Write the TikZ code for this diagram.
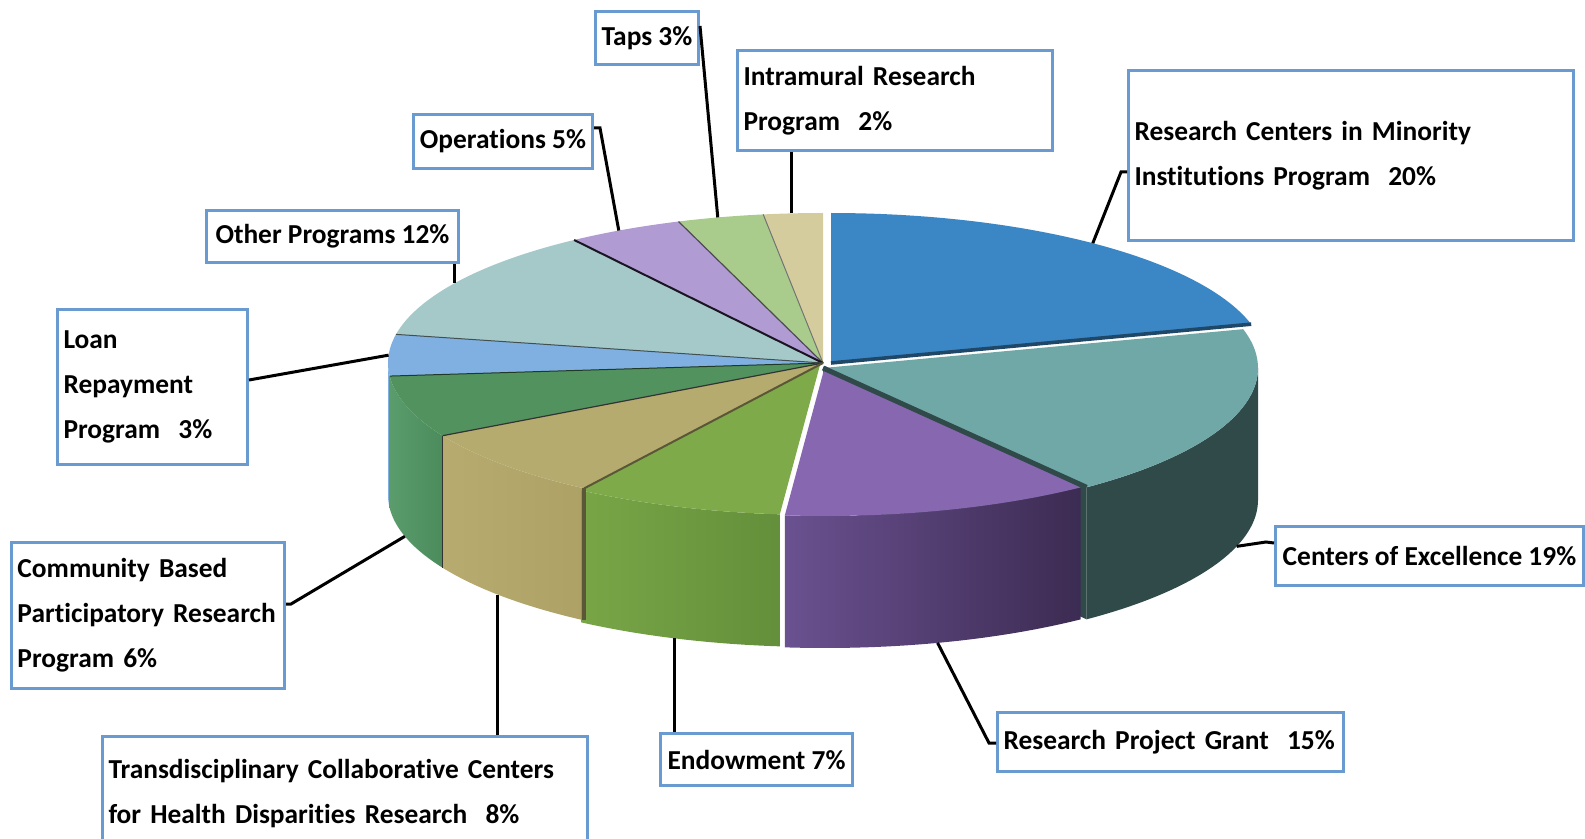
\documentclass[tikz,border=0pt]{standalone}
\usepackage{fontspec}
\setmainfont{Carlito}[Ligatures=NoCommon]
\usetikzlibrary{calc}
\definecolor{cBlue}{HTML}{3B87C6}
\definecolor{cBlueDk}{HTML}{1F4868}
\definecolor{cTeal}{HTML}{70A8A8}
\definecolor{cTealDk}{HTML}{304A4A}
\definecolor{cPurp}{HTML}{8768B0}
\definecolor{cPurpL}{HTML}{6A5190}
\definecolor{cPurpR}{HTML}{3C2B52}
\definecolor{cGreen}{HTML}{7EAA4A}
\definecolor{cGreenL}{HTML}{78A646}
\definecolor{cGreenR}{HTML}{648F3B}
\definecolor{cTan}{HTML}{B6AB6F}
\definecolor{cTanL}{HTML}{B7AB6F}
\definecolor{cTanR}{HTML}{ADA166}
\definecolor{cDkGreen}{HTML}{52925F}
\definecolor{cDkGreenL}{HTML}{5A9C6C}
\definecolor{cDkGreenR}{HTML}{4C8C5C}
\definecolor{cLtBlue}{HTML}{80B0E2}
\definecolor{cLtTeal}{HTML}{A4C9C8}
\definecolor{cLav}{HTML}{B09CD3}
\definecolor{cLtGreen}{HTML}{A9CC8D}
\definecolor{cBeige}{HTML}{D5CC9E}
\definecolor{boxblue}{HTML}{6A9BD0}
\def\pcx{823}\def\pcy{363}\def\prx{435}\def\pry{150}\def\pdep{132}
\newcommand\pieTop[5]{\fill[#1] ({\pcx+#4},{\pcy+#5}) -- plot[domain=#2:#3,samples=60] ({\pcx+#4+\prx*cos(\x)},{\pcy+#5-\pry*sin(\x)}) -- cycle;}
\newcommand\pieSide[6]{\shade[left color=#1,right color=#2] plot[domain=#3:#4,samples=60] ({\pcx+#5+\prx*cos(\x)},{\pcy+#6-\pry*sin(\x)}) -- plot[domain=#4:#3,samples=60] ({\pcx+#5+\prx*cos(\x)},{\pcy+#6+\pdep-\pry*sin(\x)}) -- cycle;}
\newcommand\pieRad[4]{\draw[#1] ({\pcx+#3},{\pcy+#4}) -- ({\pcx+#3+\prx*cos(#2)},{\pcy+#4-\pry*sin(#2)});}
\newcommand\pieVert[4]{\draw[#1] ({\pcx+#3+\prx*cos(#2)},{\pcy+#4-\pry*sin(#2)}) -- ++(0,\pdep);}
\tikzset{
  lbox/.style={draw=boxblue, line width=1.5pt, fill=white, inner sep=0pt, anchor=north west,
    font=\bfseries\fontsize{13.7}{22.5}\selectfont},
  lboxL/.style={lbox, align=left, inner xsep=3pt},
  leader/.style={draw=black, line width=1.5pt}
}
\begin{document}
\begin{tikzpicture}[x=0.5pt,y=-0.5pt]
\clip (0,0) rectangle (1585,839);
\fill[white] (0,0) rectangle (1585,839);
% ---- side faces (back to front)
\pieSide{cLtBlue}{cLtBlue}{180}{185}{0}{0}
\pieSide{cDkGreenL}{cDkGreenR}{185}{209}{0}{0}
\pieSide{cTanL}{cTanR}{209}{236.7}{0}{0}
\pieSide{cGreenL}{cGreenR}{236.7}{264.7}{-3}{2}
\pieSide{cTealDk}{cTealDk}{307.3}{360}{0}{5}
\fill[cTealDk] ({\pcx},{\pcy+5}) -- ({\pcx+\prx*cos(307.3)},{\pcy+5-\pry*sin(307.3)}) -- ++(0,\pdep) -- ({\pcx},{\pcy+5+\pdep}) -- cycle;
\pieSide{cPurpL}{cPurpR}{264.7}{306}{2}{3}
% ---- top faces
\pieTop{cBeige}{90}{97.9}{0}{0}
\pieTop{cLtGreen}{97.9}{109.4}{0}{0}
\pieTop{cLav}{109.4}{124.9}{0}{0}
\pieTop{cLtTeal}{124.9}{169}{0}{0}
\pieTop{cLtBlue}{169}{185}{0}{0}
\pieTop{cDkGreen}{185}{209}{0}{0}
\pieTop{cTan}{209}{236.7}{0}{0}
\pieTop{cGreen}{236.7}{264.7}{-3}{2}
\pieTop{cTeal}{307.3}{375}{0}{5}
\pieTop{cPurp}{264.7}{306}{2}{3}
\pieTop{cBlue}{15}{90}{8}{0}
% ---- edges
\pieRad{draw=black!55, line width=0.5pt}{97.9}{0}{0}
\pieRad{draw=black!70, line width=0.6pt}{109.4}{0}{0}
\pieRad{draw=black!80!cPurp, line width=1pt}{124.9}{0}{0}
\pieRad{draw=black!60!cLtTeal, line width=0.5pt}{169}{0}{0}
\pieRad{draw=black!60!cDkGreen, line width=0.5pt}{185}{0}{0}
\pieRad{draw=black!80, line width=0.6pt}{209}{0}{0}
\pieRad{draw=black!50!cTan, line width=1pt}{236.7}{0}{0}
\pieVert{draw=black!80, line width=0.6pt}{209}{0}{0}
\pieVert{draw=black!50!cTan, line width=2pt}{236.7}{0}{0}
\pieRad{draw=cTealDk, line width=2.5pt}{307.3}{0}{5}
\pieRad{draw=cBlueDk, line width=1.8pt}{15}{8}{0}
% ---- leader end points on the pie
\coordinate (pTaps) at ({\pcx+\prx*cos(104)},{\pcy-\pry*sin(104)});
\coordinate (pIntra) at ({\pcx+\prx*cos(94.1)},{\pcy-\pry*sin(94.1)});
\coordinate (pRC) at ({\pcx+8+\prx*cos(53)},{\pcy-\pry*sin(53)});
\coordinate (pOps) at ({\pcx+\prx*cos(118)},{\pcy-\pry*sin(118)});
\coordinate (pOther) at ({\pcx+\prx*cos(147.8)},{\pcy-\pry*sin(147.8)});
\coordinate (pLoan) at ({\pcx+\prx*cos(177)},{\pcy-\pry*sin(177)});
\coordinate (pComm) at ({\pcx+\prx*cos(196)},{\pcy+\pdep-\pry*sin(196)});
\coordinate (pTrans) at ({\pcx+\prx*cos(221.6)},{\pcy+\pdep-\pry*sin(221.6)});
\coordinate (pEndow) at ({\pcx-3+\prx*cos(250.5)},{\pcy+2+\pdep-\pry*sin(250.5)});
\coordinate (pRPG) at ({\pcx+2+\prx*cos(285)},{\pcy+3+\pdep-\pry*sin(285)});
\coordinate (pCoE) at ({\pcx+\prx*cos(342)},{\pcy+5+\pdep-\pry*sin(342)});
% ---- label boxes
\node[lbox, minimum width=51.5pt, minimum height=26.5pt] (taps) at (594,10) {Taps 3\%};
\node[lboxL, text width=151.5pt, minimum height=50pt] (intra) at (736,49) {Intramural Research\\Program~ 2\%};
\node[lboxL, text width=216.5pt, minimum height=85pt] (rc) at (1127,69) {Research Centers in Minority\\Institutions Program~ 20\%};
\node[lbox, minimum width=89.5pt, minimum height=27pt] (ops) at (412,113) {Operations 5\%};
\node[lbox, minimum width=126pt, minimum height=26pt] (other) at (205,209) {Other Programs 12\%};
\node[lboxL, text width=89pt, minimum height=77.5pt] (loan) at (56,308) {Loan\\Repayment\\Program~ 3\%};
\node[lboxL, text width=130.5pt, minimum height=73pt] (comm) at (10,541) {Community Based\\Participatory Research\\Program 6\%};
\node[lboxL, text width=236.5pt, minimum height=57.5pt] (trans) at (101,735) {Transdisciplinary Collaborative Centers\\for Health Disparities Research~ 8\%};
\node[lbox, minimum width=96pt, minimum height=26pt] (endow) at (659,732) {Endowment 7\%};
\node[lboxL, text width=167pt, minimum height=29.5pt] (rpg) at (996,711) {Research Project Grant~ 15\%};
\node[lbox, minimum width=154pt, minimum height=29.5pt] (coe) at (1274,525) {Centers of Excellence 19\%};
% ---- leaders
\draw[leader] (taps.north east) ++(0,16) -- (pTaps);
\draw[leader] (pIntra |- intra.south) -- (pIntra);
\draw[leader] (rc.north west) ++(0,103) -- ++(-6,0) -- (pRC);
\draw[leader] (ops.north east) ++(0,15) -- ++(6,0) -- (pOps);
\draw[leader] (pOther |- other.south) -- (pOther);
\draw[leader] (loan.north east) ++(0,72) -- (pLoan);
\draw[leader] (comm.north east) ++(0,63) -- ++(5,0) -- (pComm);
\draw[leader] (pTrans |- trans.north) -- (pTrans);
\draw[leader] (pEndow |- endow.north) -- (pEndow);
\draw[leader] (rpg.north west) ++(0,32) -- ++(-7,0) -- (pRPG);
\draw[leader] (coe.north west) ++(0,18) -- ++(-8,-1) -- (pCoE);
\end{tikzpicture}
\end{document}
